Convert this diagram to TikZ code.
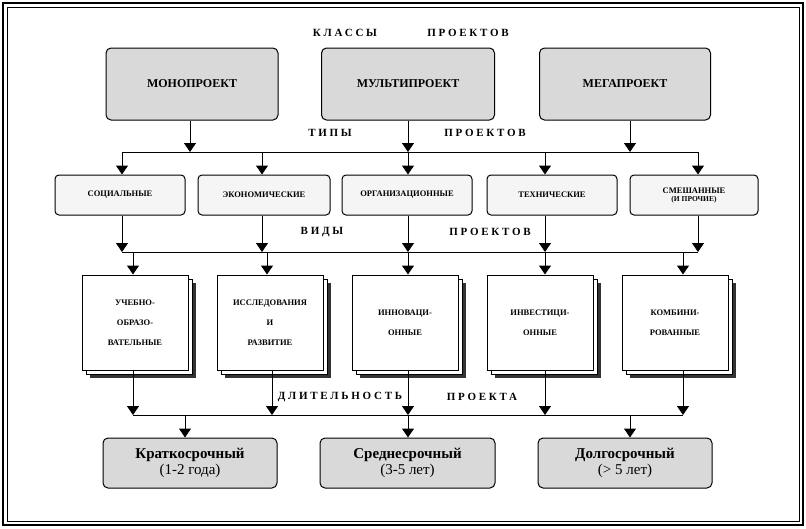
\documentclass[tikz,border=0pt]{standalone}
\usepackage{fontspec}
\setmainfont{Liberation Serif}
\newfontfamily\spaced[LetterSpace=25]{Liberation Serif}
\usetikzlibrary{arrows.meta}
\begin{document}
\begin{tikzpicture}[x=1pt,y=-1pt,
  gbox/.style={draw,line width=1pt,rounded corners=5pt,fill=black!15,font=\bfseries\fontsize{12}{14}\selectfont,align=center,inner sep=0pt},
  tbox/.style={draw,line width=1pt,rounded corners=4pt,fill=black!4,font=\bfseries\fontsize{8.5}{9}\selectfont,align=center,inner sep=0pt},
  vbox/.style={draw,line width=1pt,fill=white,font=\bfseries\fontsize{8.5}{20}\selectfont,align=center,inner sep=0pt},
  dbox/.style={draw,line width=1pt,rounded corners=5pt,fill=black!15,align=center,inner sep=0pt,font=\fontsize{15}{16}\selectfont},
  hdr/.style={font=\spaced\bfseries\fontsize{11}{12}\selectfont},
  arr/.style={line width=1pt,-{Triangle[width=12pt,length=9pt]}},
  bus/.style={line width=1pt}]
\useasboundingbox (0,0) rectangle (806,528);
\draw[line width=1.5pt] (3,3) rectangle (803,525);
\draw[line width=0.6pt] (7,7) rectangle (799,521);
% headers
\node[hdr] (h1a) at (345,33) {КЛАССЫ};
\node[hdr] (h1b) at (468,33) {ПРОЕКТОВ};
\node[hdr] (h2a) at (330,133) {ТИПЫ};
\node[hdr] (h2b) at (485,133) {ПРОЕКТОВ};
\node[hdr] (h3a) at (322,232) {ВИДЫ};
\node[hdr] (h3b) at (490,232) {ПРОЕКТОВ};
\node[hdr] (h4a) at (340,397) {ДЛИТЕЛЬНОСТЬ};
\node[hdr] (h4b) at (482,397) {ПРОЕКТА};
% class boxes
\node[gbox,minimum width=172pt,minimum height=72pt] (mono) at (192,84) {МОНОПРОЕКТ};
\node[gbox,minimum width=173pt,minimum height=72pt] (multi) at (408,84) {МУЛЬТИПРОЕКТ};
\node[gbox,minimum width=171pt,minimum height=72pt] (mega) at (625,84) {МЕГАПРОЕКТ};
% bus 1
\coordinate (b1l) at (122,152); \coordinate (b1r) at (698,152);
\draw[bus] (b1l) -- (b1r);
\draw[arr] (mono.south -| 190,0) -- (190,152);
\draw[arr] (multi.south) -- (408,152);
\draw[arr] (mega.south -| 630,0) -- (630,152);
% type boxes
\node[tbox,minimum width=130pt,minimum height=40pt] (t1) at (120,195) {СОЦИАЛЬНЫЕ};
\node[tbox,minimum width=132pt,minimum height=40pt] (t2) at (264,195) {ЭКОНОМИЧЕСКИЕ};
\node[tbox,minimum width=130pt,minimum height=40pt] (t3) at (407,195) {ОРГАНИЗАЦИОННЫЕ};
\node[tbox,minimum width=130pt,minimum height=40pt] (t4) at (552,195) {ТЕХНИЧЕСКИЕ};
\node[tbox,minimum width=128pt,minimum height=40pt] (t5) at (694,195) {СМЕШАННЫЕ\\[-1pt]{\fontsize{7.5}{8}\selectfont (И ПРОЧИЕ)}};
\foreach \x/\n in {122/t1,262/t2,408/t3,545/t4,698/t5}{
  \draw[arr] (\x,152) -- (\n.north -| \x,0);
  \draw[arr] (\n.south -| \x,0) -- (\x,252);
}
\draw[bus] (122,252) -- (698,252);
% vid boxes
\foreach \n/\cx/\txt in {v1/135/{УЧЕБНО-\\ОБРАЗО-\\ВАТЕЛЬНЫЕ},v2/270/{ИССЛЕДОВАНИЯ\\И\\РАЗВИТИЕ},v3/405/{ИННОВАЦИ-\\ОННЫЕ},v4/540/{ИНВЕСТИЦИ-\\ОННЫЕ},v5/675/{КОМБИНИ-\\РОВАННЫЕ}}{
  \fill[black!80] (\cx-53+8,283) rectangle (\cx+53+8,378);
  \draw[line width=0.8pt,fill=white] (\cx-53+4,279) rectangle (\cx+53+4,374);
  \node[vbox,minimum width=106pt,minimum height=95pt] (\n) at (\cx,322.5) {\txt};
}
\foreach \x/\n in {133/v1,267/v2,408/v3,545/v4,683/v5}
  \draw[arr] (\x,252) -- (\n.north -| \x,0);
\foreach \x/\n in {133/v1,272/v2,408/v3,545/v4,683/v5}
  \draw[arr] (\n.south -| \x,0) -- (\x,415);
\draw[bus] (133,415) -- (683,415);
% duration boxes
\node[dbox,minimum width=174pt,minimum height=50pt] (d1) at (190,463) {\textbf{Краткосрочный}\\(1-2 года)};
\node[dbox,minimum width=175pt,minimum height=50pt] (d2) at (407.5,463) {\textbf{Среднесрочный}\\(3-5 лет)};
\node[dbox,minimum width=174pt,minimum height=50pt] (d3) at (625,463) {\textbf{Долгосрочный}\\(> 5 лет)};
\draw[arr] (185,415) -- (d1.north -| 185,0);
\draw[arr] (408,415) -- (d2.north -| 408,0);
\draw[arr] (630,415) -- (d3.north -| 630,0);
\end{tikzpicture}
\end{document}
